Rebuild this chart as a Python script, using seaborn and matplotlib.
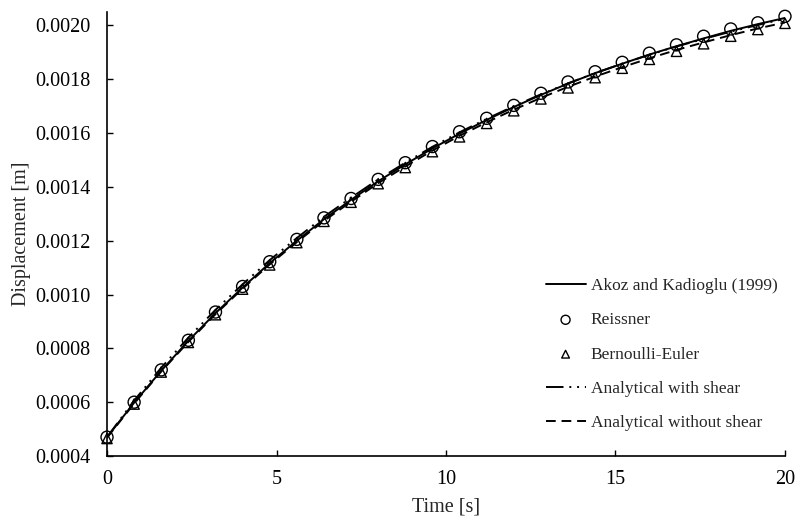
import numpy as np
import pandas as pd
import matplotlib
matplotlib.use("Agg")
import matplotlib.pyplot as plt
import seaborn as sns

# Time samples [s]
time_s = [0.0, 0.8, 1.6, 2.4, 3.2, 4.0, 4.8, 5.6, 6.4, 7.2, 8.0, 8.8, 9.6,
          10.4, 11.2, 12.0, 12.8, 13.6, 14.4, 15.2, 16.0, 16.8, 17.6, 18.4,
          19.2, 20.0]

# Displacement [m] for each solution
akoz = [0.000470, 0.000598, 0.000717, 0.000828, 0.000931, 0.001026, 0.001117,
        0.001200, 0.001280, 0.001352, 0.001421, 0.001484, 0.001543, 0.001598,
        0.001649, 0.001697, 0.001742, 0.001784, 0.001823, 0.001858, 0.001892,
        0.001923, 0.001952, 0.001980, 0.002005, 0.002028]
reissner = [0.000470, 0.000600, 0.000720, 0.000830, 0.000935, 0.001030,
            0.001122, 0.001205, 0.001285, 0.001357, 0.001428, 0.001490,
            0.001550, 0.001605, 0.001655, 0.001703, 0.001748, 0.001790,
            0.001828, 0.001863, 0.001897, 0.001928, 0.001960, 0.001987,
            0.002010, 0.002034]
bernoulli = [0.000465, 0.000593, 0.000712, 0.000822, 0.000925, 0.001020,
             0.001110, 0.001193, 0.001272, 0.001343, 0.001412, 0.001472,
             0.001531, 0.001586, 0.001636, 0.001683, 0.001727, 0.001768,
             0.001806, 0.001841, 0.001874, 0.001904, 0.001932, 0.001960,
             0.001985, 0.002008]
with_shear = [0.000470, 0.000606, 0.000728, 0.000840, 0.000943, 0.001038,
              0.001128, 0.001210, 0.001289, 0.001360, 0.001428, 0.001490,
              0.001549, 0.001603, 0.001653, 0.001700, 0.001744, 0.001785,
              0.001823, 0.001858, 0.001891, 0.001922, 0.001950, 0.001977,
              0.002002, 0.002025]
without_shear = [0.000468, 0.000595, 0.000714, 0.000824, 0.000927, 0.001022,
                 0.001112, 0.001195, 0.001274, 0.001345, 0.001414, 0.001476,
                 0.001535, 0.001590, 0.001640, 0.001687, 0.001731, 0.001772,
                 0.001810, 0.001845, 0.001878, 0.001909, 0.001937, 0.001964,
                 0.001989, 0.002011]

x_ticks = [0, 5, 10, 15, 20]
y_ticks = [0.0004, 0.0006, 0.0008, 0.0010, 0.0012, 0.0014, 0.0016, 0.0018, 0.0020]

sns.set_style("ticks")
plt.rcParams["font.family"] = ["Liberation Serif", "DejaVu Serif"]

fig = plt.figure(figsize=(7.95, 5.18), dpi=100)
ax = fig.add_axes([0.1346, 0.1197, 0.8528, 0.8571])

lw = 1.4
sns.lineplot(x=time_s, y=akoz, ax=ax, color="black", lw=lw,
             linestyle="-", label="Akoz and Kadioglu (1999)")
sns.lineplot(x=time_s, y=with_shear, ax=ax, color="black", lw=lw,
             linestyle=(0, (9, 3, 1, 3, 1, 3)), label="Analytical with shear")
sns.lineplot(x=time_s, y=without_shear, ax=ax, color="black", lw=lw,
             linestyle=(0, (5, 3)), label="Analytical without shear")
sns.scatterplot(x=time_s, y=reissner, ax=ax, marker="o", s=75,
                facecolors="none", edgecolors="black", linewidths=1.0,
                label="Reissner", zorder=3, clip_on=False)
sns.scatterplot(x=time_s, y=bernoulli, ax=ax, marker="^", s=55,
                facecolors="none", edgecolors="black", linewidths=1.0,
                label="Bernoulli-Euler", zorder=3, clip_on=False)

ax.set_xlim(0, 20)
ax.set_ylim(0.0004, 0.00205)
ax.set_xticks(x_ticks)
ax.set_yticks(y_ticks)
ax.set_xticklabels([str(v) for v in x_ticks])
ax.set_yticklabels([f"{v:.4f}" for v in y_ticks])
ax.tick_params(direction="in", length=4, width=1, labelsize=14.5,
               colors="black")
ax.tick_params(axis="y", pad=12)
ax.tick_params(axis="x", pad=10)
sns.despine(ax=ax)
for s in ("left", "bottom"):
    ax.spines[s].set_linewidth(1.2)
    ax.spines[s].set_color("black")

ax.set_xlabel("Time [s]", fontsize=14.5, labelpad=6)
ax.set_ylabel("Displacement [m]", fontsize=14.5, labelpad=3)

handles, labels = ax.get_legend_handles_labels()
order = ["Akoz and Kadioglu (1999)", "Reissner", "Bernoulli-Euler",
         "Analytical with shear", "Analytical without shear"]
hmap = dict(zip(labels, handles))
ax.legend([hmap[k] for k in order], order, loc="lower right",
          bbox_to_anchor=(1.012, 0.02), frameon=False, fontsize=12.5,
          labelspacing=1.05, handlelength=2.3, handletextpad=0.3,
          markerscale=0.75)

fig.savefig("out.png", dpi=100)
